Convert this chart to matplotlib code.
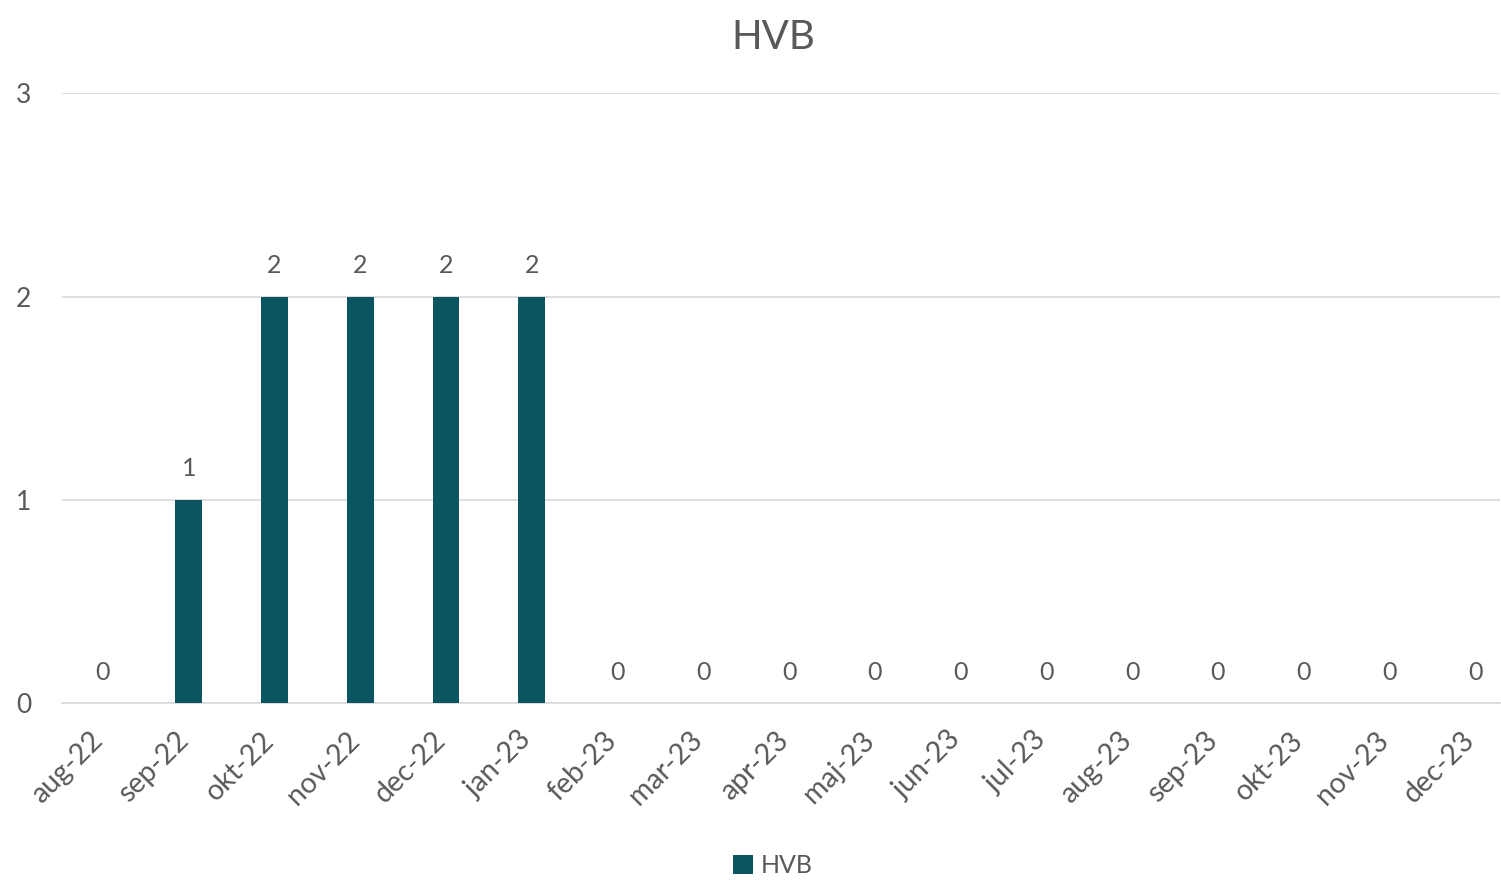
import matplotlib.pyplot as plt
import matplotlib.transforms as mtransforms

months = ['aug-22', 'sep-22', 'okt-22', 'nov-22', 'dec-22', 'jan-23', 'feb-23',
          'mar-23', 'apr-23', 'maj-23', 'jun-23', 'jul-23', 'aug-23', 'sep-23',
          'okt-23', 'nov-23', 'dec-23']
hvb = [0, 1, 2, 2, 2, 2, 0, 0, 0, 0, 0, 0, 0, 0, 0, 0, 0]

plt.rcParams['font.family'] = ['Lato', 'DejaVu Sans']
grey = '#595959'
bar_color = '#0B5563'

fig = plt.figure(figsize=(15.01, 8.80), dpi=100)
ax = fig.add_axes([0.0413, 0.201, 0.958, 0.693])

x = range(len(months))
bars = ax.bar(x, hvb, width=0.31, color=bar_color, label='HVB', zorder=3)
ax.bar_label(bars, padding=14, color=grey, fontsize=18)

ax.set_xlim(-0.478, 16.29)
ax.set_ylim(0, 3)
ax.set_yticks([0, 1, 2, 3])
ax.set_xticks(list(x))
ax.set_xticklabels(months, rotation=45, ha='right', va='top',
                   rotation_mode='anchor', fontsize=20.5)
ax.tick_params(axis='both', length=0, colors=grey)
ax.tick_params(axis='y', labelsize=19, pad=22)
ax.tick_params(axis='x', pad=17)
ax.yaxis.grid(True, color='#d9d9d9', linewidth=1.2, zorder=0)

# nudge the rotated month labels left so they end under the bar centre
shift = mtransforms.ScaledTranslation(-14 / 100, 0, fig.dpi_scale_trans)
for lbl in ax.get_xticklabels():
    lbl.set_transform(lbl.get_transform() + shift)

for side in ['top', 'right', 'left']:
    ax.spines[side].set_visible(False)
ax.spines['bottom'].set_color('#d9d9d9')
ax.spines['bottom'].set_linewidth(1.2)

fig.suptitle('HVB', x=0.515, y=0.978, color=grey, fontsize=29)
fig.legend(loc='lower center', bbox_to_anchor=(0.515, -0.022), frameon=False,
           fontsize=18, labelcolor=grey, handlelength=0.8, handleheight=0.8,
           handletextpad=0.3)

fig.savefig('out.png', dpi=100)
